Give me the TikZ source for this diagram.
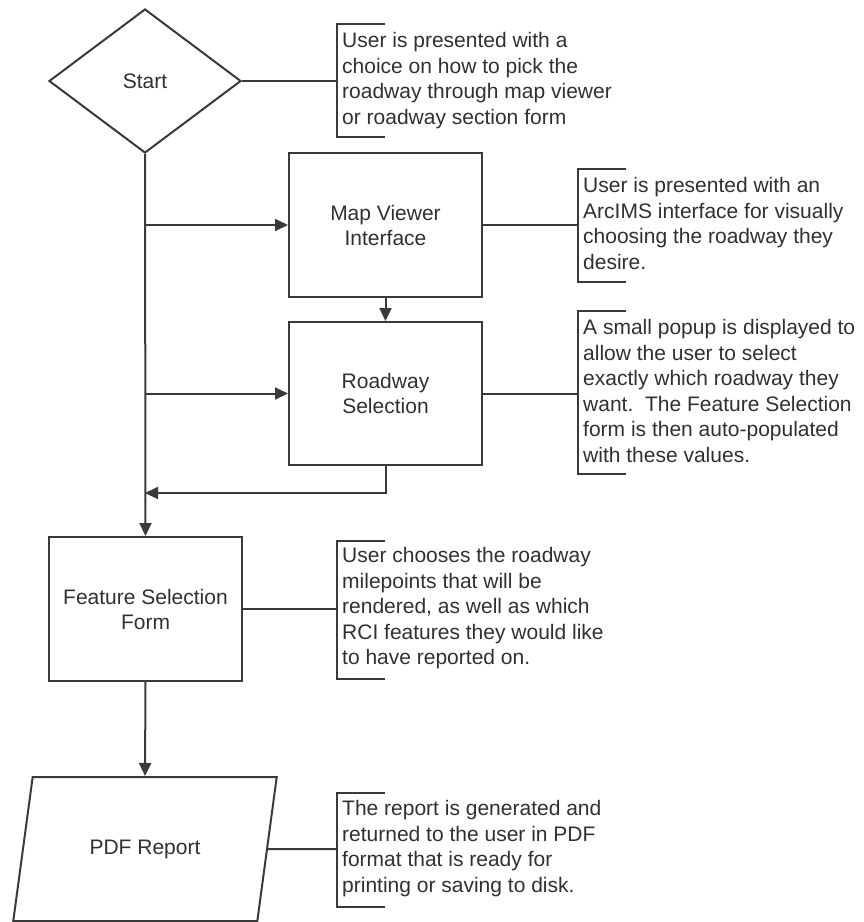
\documentclass[tikz,border=0pt]{standalone}
\usepackage{fontspec}
\setmainfont{Liberation Sans}
\usetikzlibrary{shapes.geometric,arrows.meta}

\definecolor{linegray}{HTML}{3A3A3A}
\definecolor{textgray}{HTML}{303030}

\tikzset{
  box/.style={draw=linegray, line width=2pt, text=textgray, align=center,
    font=\fontsize{21}{25}\selectfont, inner sep=0pt},
  note/.style={text=textgray, align=left, anchor=north west, inner sep=0pt,
    font=\fontsize{21}{25.5}\selectfont},
  arr/.style={draw=linegray, line width=2pt, -{Triangle[length=13pt,width=12pt]}},
  link/.style={draw=linegray, line width=2pt}
}

\begin{document}
\begin{tikzpicture}[x=1pt,y=-1pt]

      \useasboundingbox (0,0) rectangle (864,922);

      \begin{scope}[every node/.style={box}]
        \node (start) [diamond, minimum width=192pt, minimum height=144pt] at (145,81) {Start};
        \node (map) [rectangle, minimum width=193pt, minimum height=144pt] at (385.5,225) {Map Viewer\\Interface};
        \node (road) [rectangle, minimum width=193pt, minimum height=143pt] at (385.5,393.5) {Roadway\\Selection};
        \node (feature) [rectangle, minimum width=193pt, minimum height=144pt] at (145.5,609) {Feature Selection\\Form};
        \node (pdf) [trapezium, trapezium left angle=63, trapezium right angle=117,
          trapezium stretches=true, minimum width=264pt, minimum height=144pt] at (145,849) {PDF Report};
      \end{scope}

      % annotation brackets
      \foreach \n/\bx/\ty/\by/\cy in {start/337/24/137/81, map/578/169/282/225,
          road/578/311/474/393.5, feature/337/541/679/609, pdf/337/793/907/849} {
        \coordinate (br-\n) at (\bx,\cy);
        \draw[link] (\bx+48,\ty) -- (\bx,\ty) -- (\bx,\by) -- (\bx+48,\by);
      }

      \begin{scope}[every node/.style={note}]
        \node (noteStart) at (342,32.2) {User is presented with a\\choice on how to pick the\\roadway through map viewer\\or roadway section form};
        \node (noteMap) at (583,177.2) {User is presented with an\\ArcIMS interface for visually\\choosing the roadway they\\desire.};
        \node (noteRoad) at (583,319.2) {A small popup is displayed to\\allow the user to select\\exactly which roadway they\\want.\ \ The Feature Selection\\form is then auto-populated\\with these values.};
        \node (noteFeature) at (342,547.2) {User chooses the roadway\\milepoints that will be\\rendered, as well as which\\RCI features they would like\\to have reported on.};
        \node (notePdf) at (342,800.2) {The report is generated and\\returned to the user in PDF\\format that is ready for\\printing or saving to disk.};
      \end{scope}

      % flow connectors
      \coordinate (j1) at (145,225);
      \coordinate (j2) at (145,393.5);
      \coordinate (j3) at (145,493);
      \draw[arr] (start.south) -- (feature.north);
      \draw[arr] (j1) -- (map.west);
      \draw[arr] (j2) -- (road.west);
      \draw[arr] (map.south) -- (road.north);
      \draw[arr] (road.south) -- (road.south |- j3) -- (j3);
      \draw[arr] (feature.south) -- (pdf.north);

      % links to notes
      \draw[link] (start.east) -- (br-start);
      \draw[link] (map.east) -- (br-map);
      \draw[link] (road.east) -- (br-road);
      \draw[link] (feature.east) -- (br-feature);
      \draw[link] (pdf.east) -- (br-pdf);

    \end{tikzpicture}
\end{document}
